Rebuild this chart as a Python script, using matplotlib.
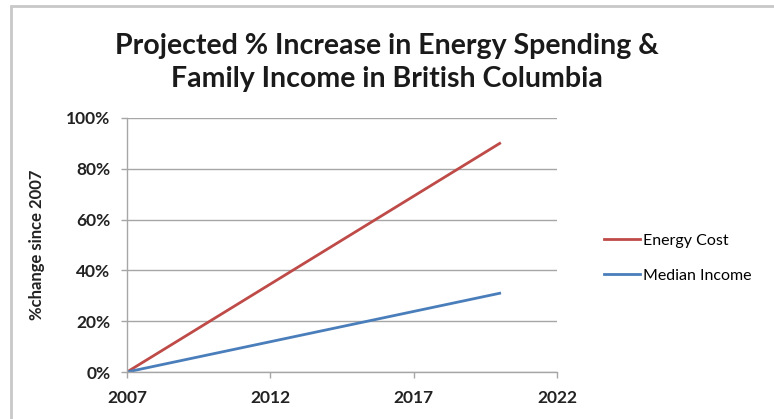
import matplotlib
matplotlib.use("Agg")
import matplotlib.pyplot as plt
from matplotlib.patches import Rectangle
from matplotlib.ticker import FuncFormatter

# projected % change since 2007
years = [2007, 2020]
energy_cost = [0.0, 0.90]
median_income = [0.0, 0.31]

x_ticks = [2007, 2012, 2017, 2022]
y_ticks = [0.0, 0.2, 0.4, 0.6, 0.8, 1.0]

plt.rcParams['font.family'] = ['Lato', 'DejaVu Sans']

fig = plt.figure(figsize=(7.74, 4.19), dpi=100)
fig.patch.set_facecolor('white')

# light grey frame around the chart area
fig.patches.append(Rectangle((11 / 774, -0.01), 1.2, (419 - 6) / 419 + 0.01,
                             transform=fig.transFigure, fill=False,
                             edgecolor='#c8c8c8', linewidth=2))

ax = fig.add_axes([127 / 774, 1 - 372 / 419, (557 - 127) / 774, (372 - 118) / 419])

ax.plot(years, energy_cost, color='#be4b48', linewidth=2, label='Energy Cost')
ax.plot(years, median_income, color='#4a7ebb', linewidth=2, label='Median Income')

ax.set_xlim(2007, 2022)
ax.set_ylim(0, 1.0)
ax.set_xticks(x_ticks)
ax.set_yticks(y_ticks)
ax.yaxis.set_major_formatter(FuncFormatter(lambda v, p: f"{v * 100:.0f}%"))

ax.grid(axis='y', color='#a6a6a6', linewidth=1)
ax.set_axisbelow(True)
for side in ['top', 'right']:
    ax.spines[side].set_visible(False)
for side in ['left', 'bottom']:
    ax.spines[side].set_color('#a6a6a6')
    ax.spines[side].set_linewidth(1)
ax.tick_params(axis='both', colors='#a6a6a6', length=4, width=1,
               labelcolor='#222222', labelsize=12.5)
ax.tick_params(axis='x', pad=9)
ax.tick_params(axis='y', pad=8)
for lbl in ax.get_xticklabels() + ax.get_yticklabels():
    lbl.set_fontweight('bold')

ax.set_ylabel('%change since 2007', fontsize=12, fontweight='bold', color='#222222')
ax.yaxis.set_label_coords(45 / 774, 1 - 245 / 419, transform=fig.transFigure)

fig.text(0.5, 1 - 46 / 419, 'Projected % Increase in Energy Spending &',
         ha='center', va='center', fontsize=20.5, fontweight='bold', color='#1a1a1a')
fig.text(0.5, 1 - 79 / 419, 'Family Income in British Columbia',
         ha='center', va='center', fontsize=20.5, fontweight='bold', color='#1a1a1a')

ax.legend(loc='center left', bbox_to_anchor=(590 / 774, 1 - 258 / 419),
          bbox_transform=fig.transFigure, frameon=False, fontsize=11.5,
          handlelength=2.2, handletextpad=0.2, labelspacing=1.3)

fig.savefig('out.png', dpi=100)
